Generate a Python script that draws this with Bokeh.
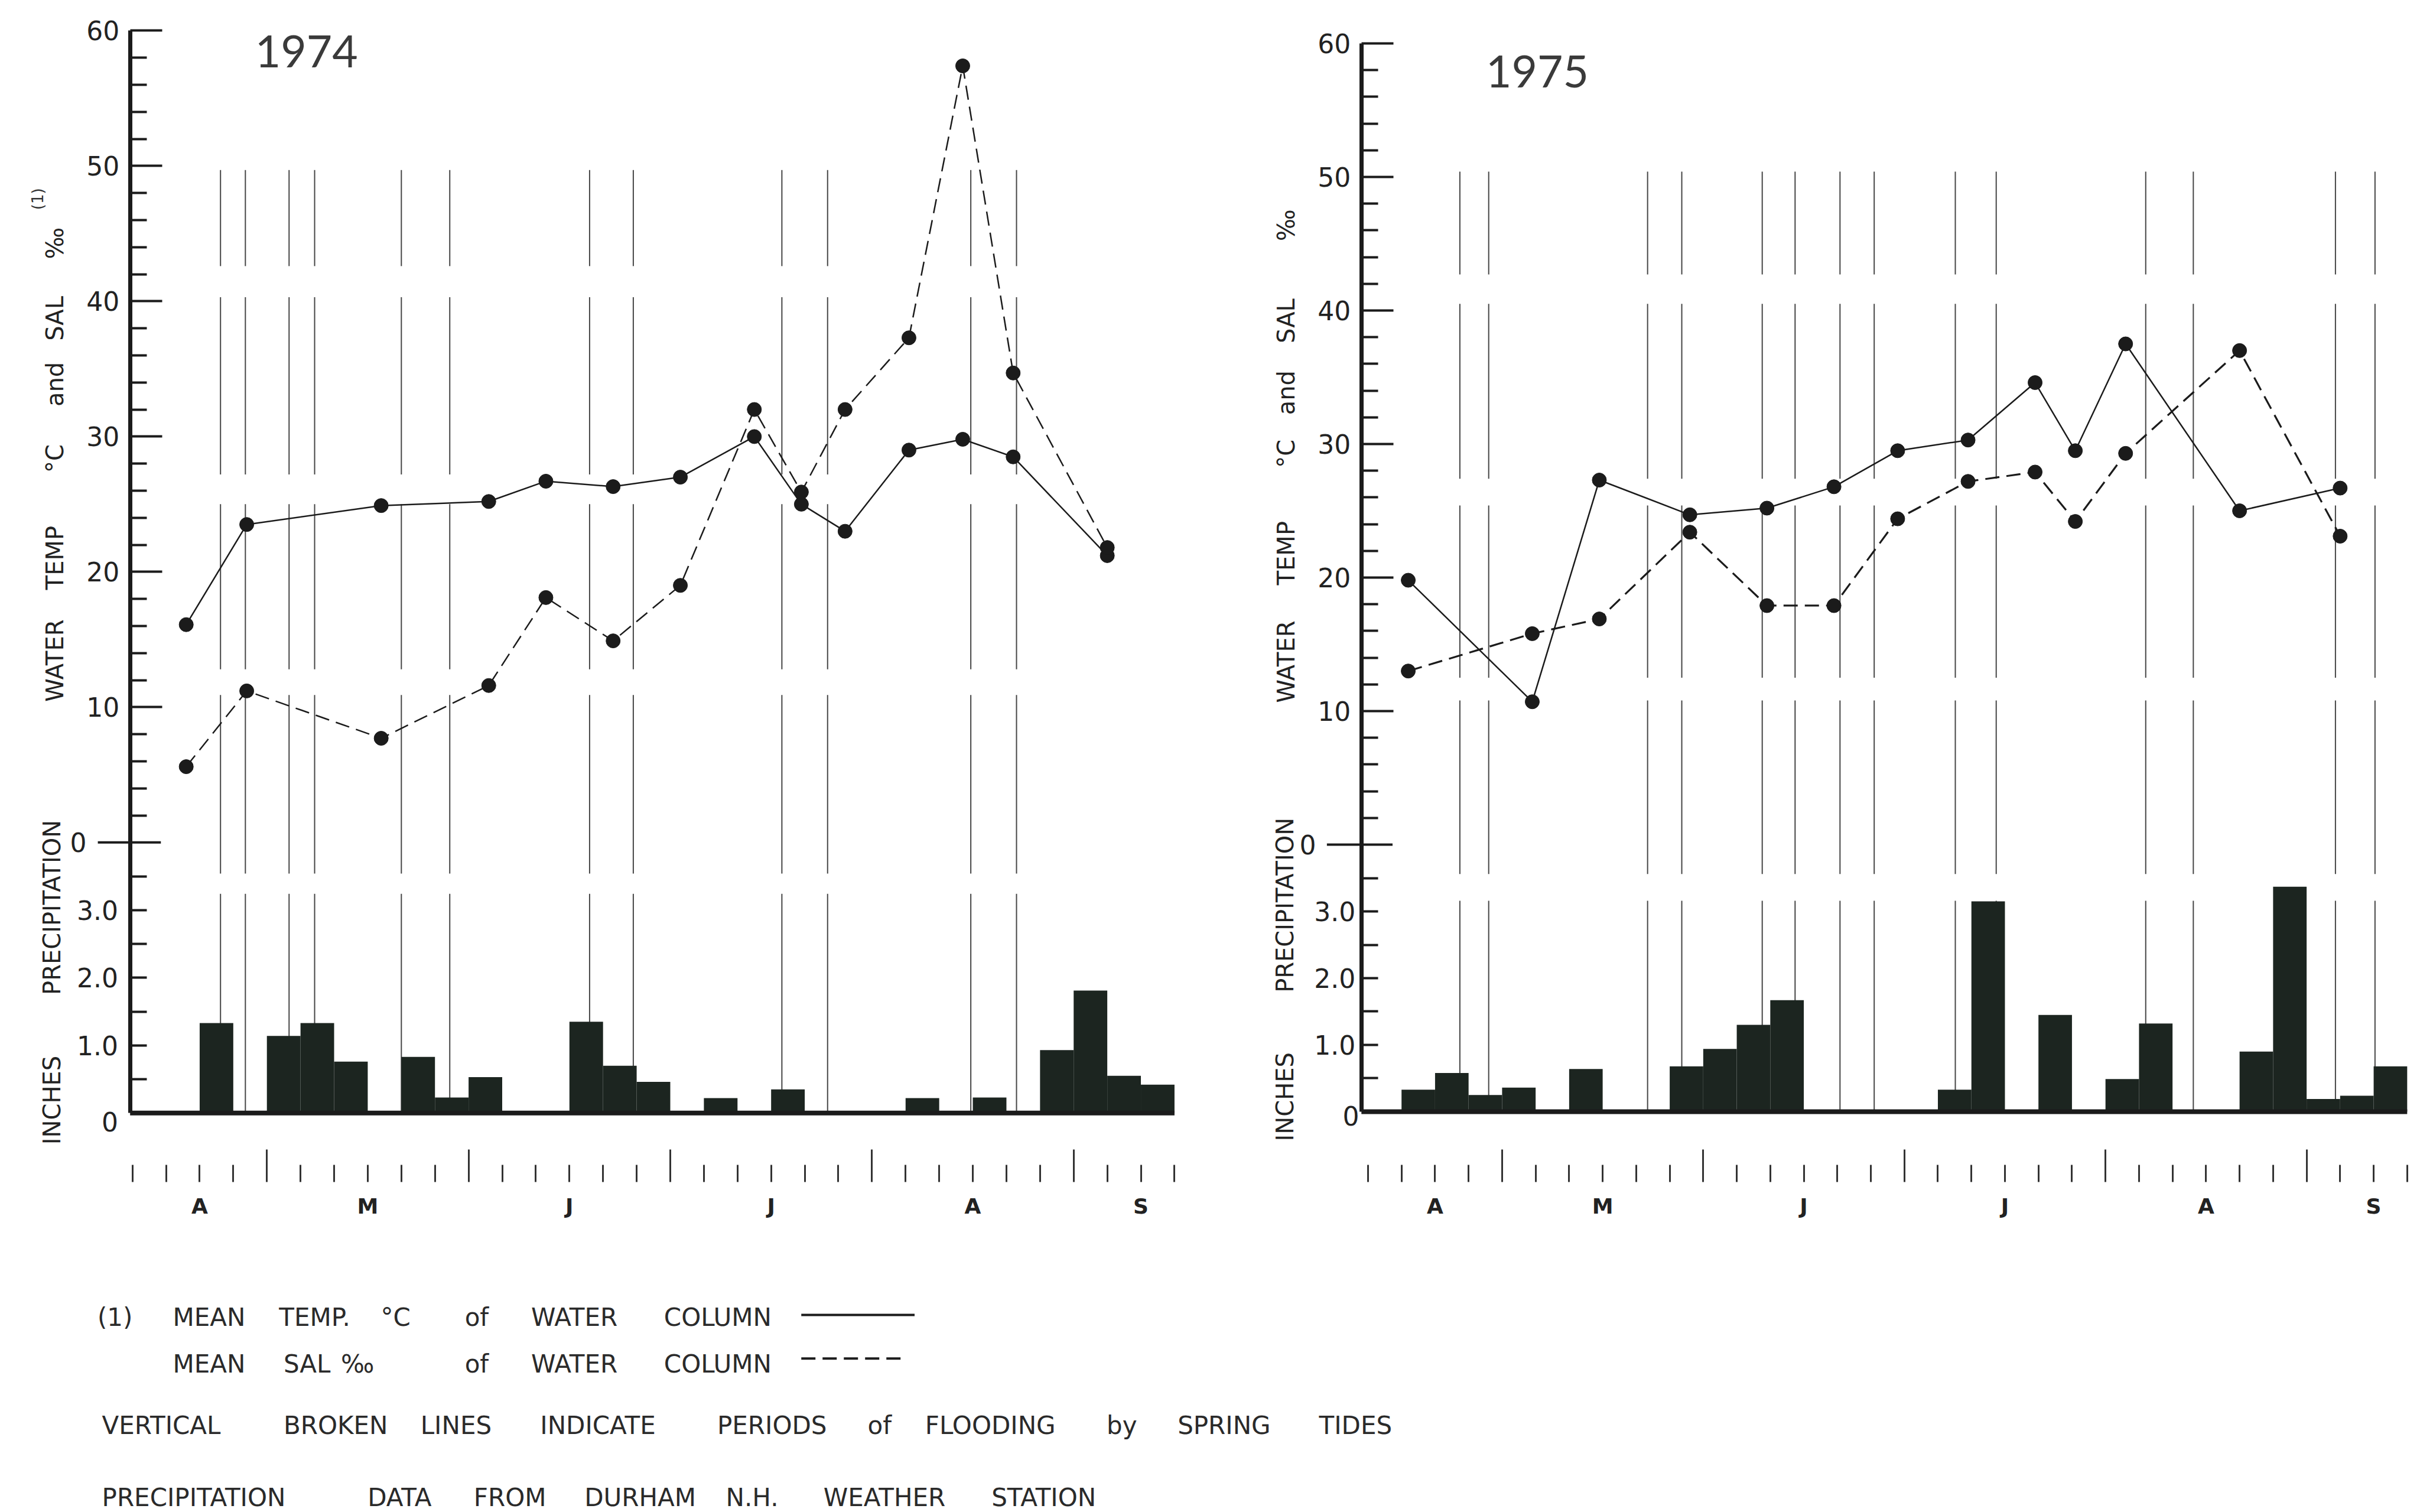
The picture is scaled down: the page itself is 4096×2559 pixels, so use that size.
import math
from bokeh.plotting import figure
from bokeh.models import Range1d, LinearAxis, FixedTicker, Label
from bokeh.layouts import row, column
from bokeh.embed import file_html
from bokeh.resources import INLINE
from bokeh.core.properties import value

# ------------------------------------------------------------------ data
# x = day counted from 1 April (each month drawn as 30 days, ticks every 5 days)
MONTH_LETTERS = ["A", "M", "J", "J", "A", "S"]
MONTH_LETTER_DAYS = [20, 45, 75, 105, 135, 160]
MONTH_START_DAYS = [30, 60, 90, 120, 150]
PENTAD_TICKS = list(range(10, 170, 5))          # 10 ... 165
PRECIP_BIN_START = list(range(10, 165, 5))      # 5-day precipitation totals
PRECIP_BIN_LEN = 5

days_1974 = [18, 27, 47, 63, 71.5, 81.5, 91.5, 102.5, 109.5, 116, 125.5, 133.5, 141, 155]
temp_1974 = [16.1, 23.5, 24.9, 25.2, 26.7, 26.3, 27.0, 30.0, 25.0, 23.0, 29.0, 29.8, 28.5, 21.2]
sal_1974 = [5.6, 11.2, 7.7, 11.6, 18.1, 14.9, 19.0, 32.0, 25.9, 32.0, 37.3, 57.4, 34.7, 21.8]
flood_1974 = [23.1, 26.8, 33.3, 37.1, 50.0, 57.2, 78.0, 84.5, 106.6, 113.4, 134.7, 141.5]
precip_1974 = [0, 0, 1.33, 0, 1.14, 1.33, 0.76, 0, 0.83, 0.23, 0.53, 0, 0, 1.35, 0.70, 0.46,
               0, 0.22, 0, 0.35, 0, 0, 0, 0.22, 0, 0.23, 0, 0.93, 1.81, 0.55, 0.42]

days_1975 = [16, 34.5, 44.5, 58, 69.5, 79.5, 89, 99.5, 109.5, 115.5, 123, 140, 155]
temp_1975 = [19.8, 10.7, 27.3, 24.7, 25.2, 26.8, 29.5, 30.3, 34.6, 29.5, 37.5, 25.0, 26.7]
sal_1975 = [13.0, 15.8, 16.9, 23.4, 17.9, 17.9, 24.4, 27.2, 27.9, 24.2, 29.3, 37.0, 23.1]
flood_1975 = [23.7, 28.0, 51.7, 56.8, 68.8, 73.7, 80.4, 85.5, 97.6, 103.7, 126.0, 133.1, 154.3, 160.2]
precip_1975 = [0, 0.33, 0.58, 0.25, 0.36, 0, 0.64, 0, 0, 0.68, 0.94, 1.30, 1.67, 0, 0, 0,
               0, 0.33, 3.15, 0, 1.45, 0, 0.49, 1.32, 0, 0, 0.90, 3.37, 0.19, 0.24, 0.68]

TEMP_MAJOR = [10, 20, 30, 40, 50, 60]
TEMP_MINOR = [t for t in range(2, 60, 2) if t % 10]
PRECIP_LABELLED = [1.0, 2.0, 3.0]
PRECIP_MINOR = [0.5, 1.0, 1.5, 2.0, 2.5, 3.0, 3.5]

# precipitation shares the vertical axis below the temperature scale
PRECIP_ZERO_T = -20.0     # 0 inch sits 20 temperature-units below 0
PRECIP_T_PER_INCH = 5.0

# ------------------------------------------------------------------ layout / style
S = 0.635
TOP_H = 2100
LEG_H = 2559 - TOP_H
SPLIT = 2100
INK = "#1b1b1b"
BAR = "#1c2520"
FLOOD = "#454545"
FONT = "DejaVu Sans"

# reference-pixel calibration of each panel
CAL = {
    1974: dict(day30=710.6, ppd=17.92, t60=81.0, ppt=36.06, fig_x=0, axis_x=346),
    1975: dict(day30=4003.0, ppd=17.87, t60=115.0, ppt=35.59, fig_x=SPLIT, axis_x=3628),
}
# plot frame in output pixels (absolute)
FRAME = {
    1974: dict(left=0, right=1990, top=0, bottom=2000, width=SPLIT),
    1975: dict(left=SPLIT, right=4076, top=0, bottom=2000, width=4096 - SPLIT),
}
BANDS = {
    1974: [(49.7, 42.6), (40.3, 27.2), (25.0, 12.8), (10.9, -2.3), (-3.8, PRECIP_ZERO_T)],
    1975: [(50.4, 42.7), (40.5, 27.4), (25.4, 12.5), (10.8, -2.2), (-4.2, PRECIP_ZERO_T)],
}
# annotation placement in reference pixels
ANNOT = {
    1974: dict(title=(679, 137), title_x=145, title_words=[("WATER", 1760), ("TEMP", 1486), ("°C", 1221.5),
                                                         ("and", 1023.5), ("SAL", 848), ("‰", 647.5)],
               note=(100, 529.5), ptitle_x=138, ptitle_words=[("INCHES", 2931.5), ("PRECIPITATION", 2418)],
               zero_x=230, plab_x=314, pzero=(314, 2989), cross=(260, 428), dash_w=2.5),
    1975: dict(title=(3960, 190), title_x=3428, title_words=[("WATER", 1763), ("TEMP", 1473.5), ("°C", 1208.5),
                                                          ("and", 1046), ("SAL", 854.5), ("‰", 599.5)],
               note=None, ptitle_x=3424, ptitle_words=[("INCHES", 2922.5), ("PRECIPITATION", 2411.5)],
               zero_x=3507, plab_x=3612, pzero=(3622, 2973), cross=(3536, 3711), dash_w=3.2),
}


def day_ref(c, fx):
    return 30 + (fx - c["day30"]) / c["ppd"]


def t_ref(c, fy):
    return 60 - (fy - c["t60"]) / c["ppt"]


def make_panel(year, days, temp, sal, flood, precip):
    c, f, a = CAL[year], FRAME[year], ANNOT[year]
    x0, x1 = day_ref(c, f["left"] / S), day_ref(c, f["right"] / S)
    y1, y0 = t_ref(c, f["top"] / S), t_ref(c, f["bottom"] / S)
    axis_day = day_ref(c, c["axis_x"])
    p = figure(width=f["width"], height=TOP_H, x_range=Range1d(x0, x1), y_range=Range1d(y0, y1),
               output_backend="svg", toolbar_location=None,
               min_border_left=f["left"] - c["fig_x"], min_border_right=c["fig_x"] + f["width"] - f["right"],
               min_border_top=f["top"], min_border_bottom=TOP_H - f["bottom"])
    p.outline_line_color = None
    p.grid.visible = False
    p.background_fill_color = "white"
    p.border_fill_color = "white"
    p.extra_y_ranges = {"precip": Range1d((y0 - PRECIP_ZERO_T) / PRECIP_T_PER_INCH,
                                          (y1 - PRECIP_ZERO_T) / PRECIP_T_PER_INCH)}

    # vertical axis (temperature / salinity above, precipitation below), drawn at its fixed day
    ya = p.yaxis[0]
    ya.fixed_location = axis_day
    ya.ticker = FixedTicker(ticks=TEMP_MAJOR,
                            minor_ticks=TEMP_MINOR + [PRECIP_ZERO_T + PRECIP_T_PER_INCH * v for v in PRECIP_MINOR])
    ya.bounds = (PRECIP_ZERO_T, 60)
    ya.axis_line_width = 7
    ya.axis_line_color = INK
    ya.major_tick_in, ya.major_tick_out = 54, 0
    ya.minor_tick_in, ya.minor_tick_out = 28, 0
    ya.major_tick_line_width = 4
    ya.minor_tick_line_width = 4
    ya.major_tick_line_color = INK
    ya.minor_tick_line_color = INK
    ya.major_label_standoff = 18
    ya.major_label_text_font = FONT
    ya.major_label_text_font_size = "44px"
    ya.major_label_text_color = "#222222"

    # tick row: long ticks at month starts (first axis), letters + 5-day ticks (second axis)
    xa = p.xaxis[0]
    xa.ticker = FixedTicker(ticks=[], minor_ticks=MONTH_START_DAYS)
    xa.axis_line_color = None
    xa.minor_tick_in, xa.minor_tick_out = 55, 0
    xa.major_tick_in, xa.major_tick_out = 0, 0
    xa.minor_tick_line_width = 3
    xa.minor_tick_line_color = "#333333"
    xa.major_label_standoff = 0

    xl = LinearAxis(ticker=FixedTicker(ticks=MONTH_LETTER_DAYS,
                                       minor_ticks=[d for d in PENTAD_TICKS
                                                    if d not in MONTH_START_DAYS and d not in MONTH_LETTER_DAYS]),
                    major_label_overrides={d: m for d, m in zip(MONTH_LETTER_DAYS, MONTH_LETTERS)},
                    axis_line_color=None,
                    major_tick_in=29, major_tick_out=0, minor_tick_in=29, minor_tick_out=0,
                    major_tick_line_width=3, minor_tick_line_width=3,
                    major_tick_line_color="#333333", minor_tick_line_color="#333333",
                    major_label_text_font=FONT, major_label_text_font_size="36px",
                    major_label_text_font_style="bold", major_label_text_color="#222222",
                    major_label_standoff=20)
    p.add_layout(xl, "below")

    # flooding periods: broken vertical lines
    fx, fy0, fy1 = [], [], []
    for x in flood:
        for top, bot in BANDS[year]:
            fx.append(x)
            fy0.append(top)
            fy1.append(bot)
    p.segment(x0=fx, y0=fy0, x1=fx, y1=fy1, line_color=FLOOD, line_width=2)

    # precipitation bars (5-day totals) and the zero line
    p.quad(left=PRECIP_BIN_START, right=[b + PRECIP_BIN_LEN for b in PRECIP_BIN_START],
           bottom=0, top=precip, y_range_name="precip", fill_color=BAR, line_color=None)
    p.segment(x0=[axis_day], x1=[PRECIP_BIN_START[-1] + PRECIP_BIN_LEN], y0=[0], y1=[0],
              y_range_name="precip", line_color=INK, line_width=8)

    # temperature zero tick (crosses the axis)
    p.segment(x0=[day_ref(c, a["cross"][0])], x1=[day_ref(c, a["cross"][1])], y0=[0], y1=[0],
              line_color=INK, line_width=4)

    # temperature (solid) and salinity (dashed)
    p.line(days, temp, line_color=INK, line_width=2.5)
    p.line(days, sal, line_color=INK, line_width=a["dash_w"], line_dash="24 12")
    p.scatter(days, temp, size=24, marker="circle", fill_color=INK, line_color=INK)
    p.scatter(days, sal, size=24, marker="circle", fill_color=INK, line_color=INK)

    # year title
    tx, ty = a["title"]
    p.add_layout(Label(x=day_ref(c, tx), y=t_ref(c, ty), text=str(year), text_font="Lato",
                       text_font_size="75px", text_color="#3a3a3a", text_align="left",
                       text_baseline="middle"))

    # rotated axis titles, word by word
    for w, fy in a["title_words"]:
        p.add_layout(Label(x=day_ref(c, a["title_x"]), y=t_ref(c, fy), text=w, angle=math.pi / 2,
                           text_font=FONT, text_font_size="40px", text_color="#222222",
                           text_align="center", text_baseline="middle"))
    if a["note"]:
        nx, ny = a["note"]
        p.add_layout(Label(x=day_ref(c, nx), y=t_ref(c, ny), text="(1)", angle=math.pi / 2,
                           text_font=FONT, text_font_size="26px", text_color="#333333",
                           text_align="center", text_baseline="middle"))
    for w, fy in a["ptitle_words"]:
        p.add_layout(Label(x=day_ref(c, a["ptitle_x"]), y=t_ref(c, fy), text=w, angle=math.pi / 2,
                           text_font=FONT, text_font_size="40px", text_color="#222222",
                           text_align="center", text_baseline="middle"))

    # temperature zero label
    p.add_layout(Label(x=day_ref(c, a["zero_x"]), y=0, text="0", text_font=FONT,
                       text_font_size="44px", text_color="#222222", text_align="right",
                       text_baseline="middle"))

    # precipitation scale labels
    for v in PRECIP_LABELLED:
        p.add_layout(Label(x=day_ref(c, a["plab_x"]), y=v, y_range_name="precip", text=f"{v:.1f}",
                           text_font=FONT, text_font_size="44px", text_color="#222222",
                           text_align="right", text_baseline="middle"))
    zx, zy = a["pzero"]
    p.add_layout(Label(x=day_ref(c, zx), y=t_ref(c, zy), text="0", text_font=FONT,
                       text_font_size="44px", text_color="#222222", text_align="right",
                       text_baseline="middle"))
    return p


p74 = make_panel(1974, days_1974, temp_1974, sal_1974, flood_1974, precip_1974)
p75 = make_panel(1975, days_1975, temp_1975, sal_1975, flood_1975, precip_1975)

# ------------------------------------------------------------------ notes below the panels
LEGEND_LINES = [
    (3511, [("(1)", 259), ("MEAN", 460), ("TEMP.", 743), ("°C", 1014), ("of", 1238), ("WATER", 1415),
            ("COLUMN", 1769)]),
    (3635, [("MEAN", 460), ("SAL", 755), ("‰", 908), ("of", 1238), ("WATER", 1415), ("COLUMN", 1769)]),
    (3799, [("VERTICAL", 271), ("BROKEN", 755), ("LINES", 1120), ("INDICATE", 1439), ("PERIODS", 1911),
            ("of", 2312), ("FLOODING", 2465), ("by", 2949), ("SPRING", 3138), ("TIDES", 3515)]),
    (3990, [("PRECIPITATION", 271), ("DATA", 979), ("FROM", 1262), ("DURHAM", 1557), ("N.H.", 1934),
            ("WEATHER", 2194), ("STATION", 2642)]),
]
KEY_SOLID = ((2135, 2437), 3504)
KEY_DASH = ((2135, 2418), 3620)

leg = figure(width=4096, height=LEG_H, x_range=Range1d(0, 4096), y_range=Range1d(LEG_H, 0),
             output_backend="svg", toolbar_location=None, min_border=0)
leg.axis.visible = False
leg.grid.visible = False
leg.outline_line_color = None
leg.background_fill_color = "white"
leg.border_fill_color = "white"
wx, wy, wt = [], [], []
for fy, words in LEGEND_LINES:
    for w, fx in words:
        wx.append(fx * S)
        wy.append(fy * S - TOP_H)
        wt.append(w)
leg.text(x=wx, y=wy, text=wt, text_font=value(FONT), text_font_size="42px",
         text_color="#2a2a2a", text_align="left", text_baseline="middle")
(sx0, sx1), sy = KEY_SOLID
leg.line([sx0 * S, sx1 * S], [sy * S - TOP_H] * 2, line_color=INK, line_width=4)
(dx0, dx1), dy = KEY_DASH
leg.line([dx0 * S, dx1 * S], [dy * S - TOP_H] * 2, line_color=INK, line_width=4, line_dash="24 12")

layout = column(row(p74, p75, spacing=0), leg, spacing=0)
open("out.html", "w").write(file_html(layout, INLINE))
